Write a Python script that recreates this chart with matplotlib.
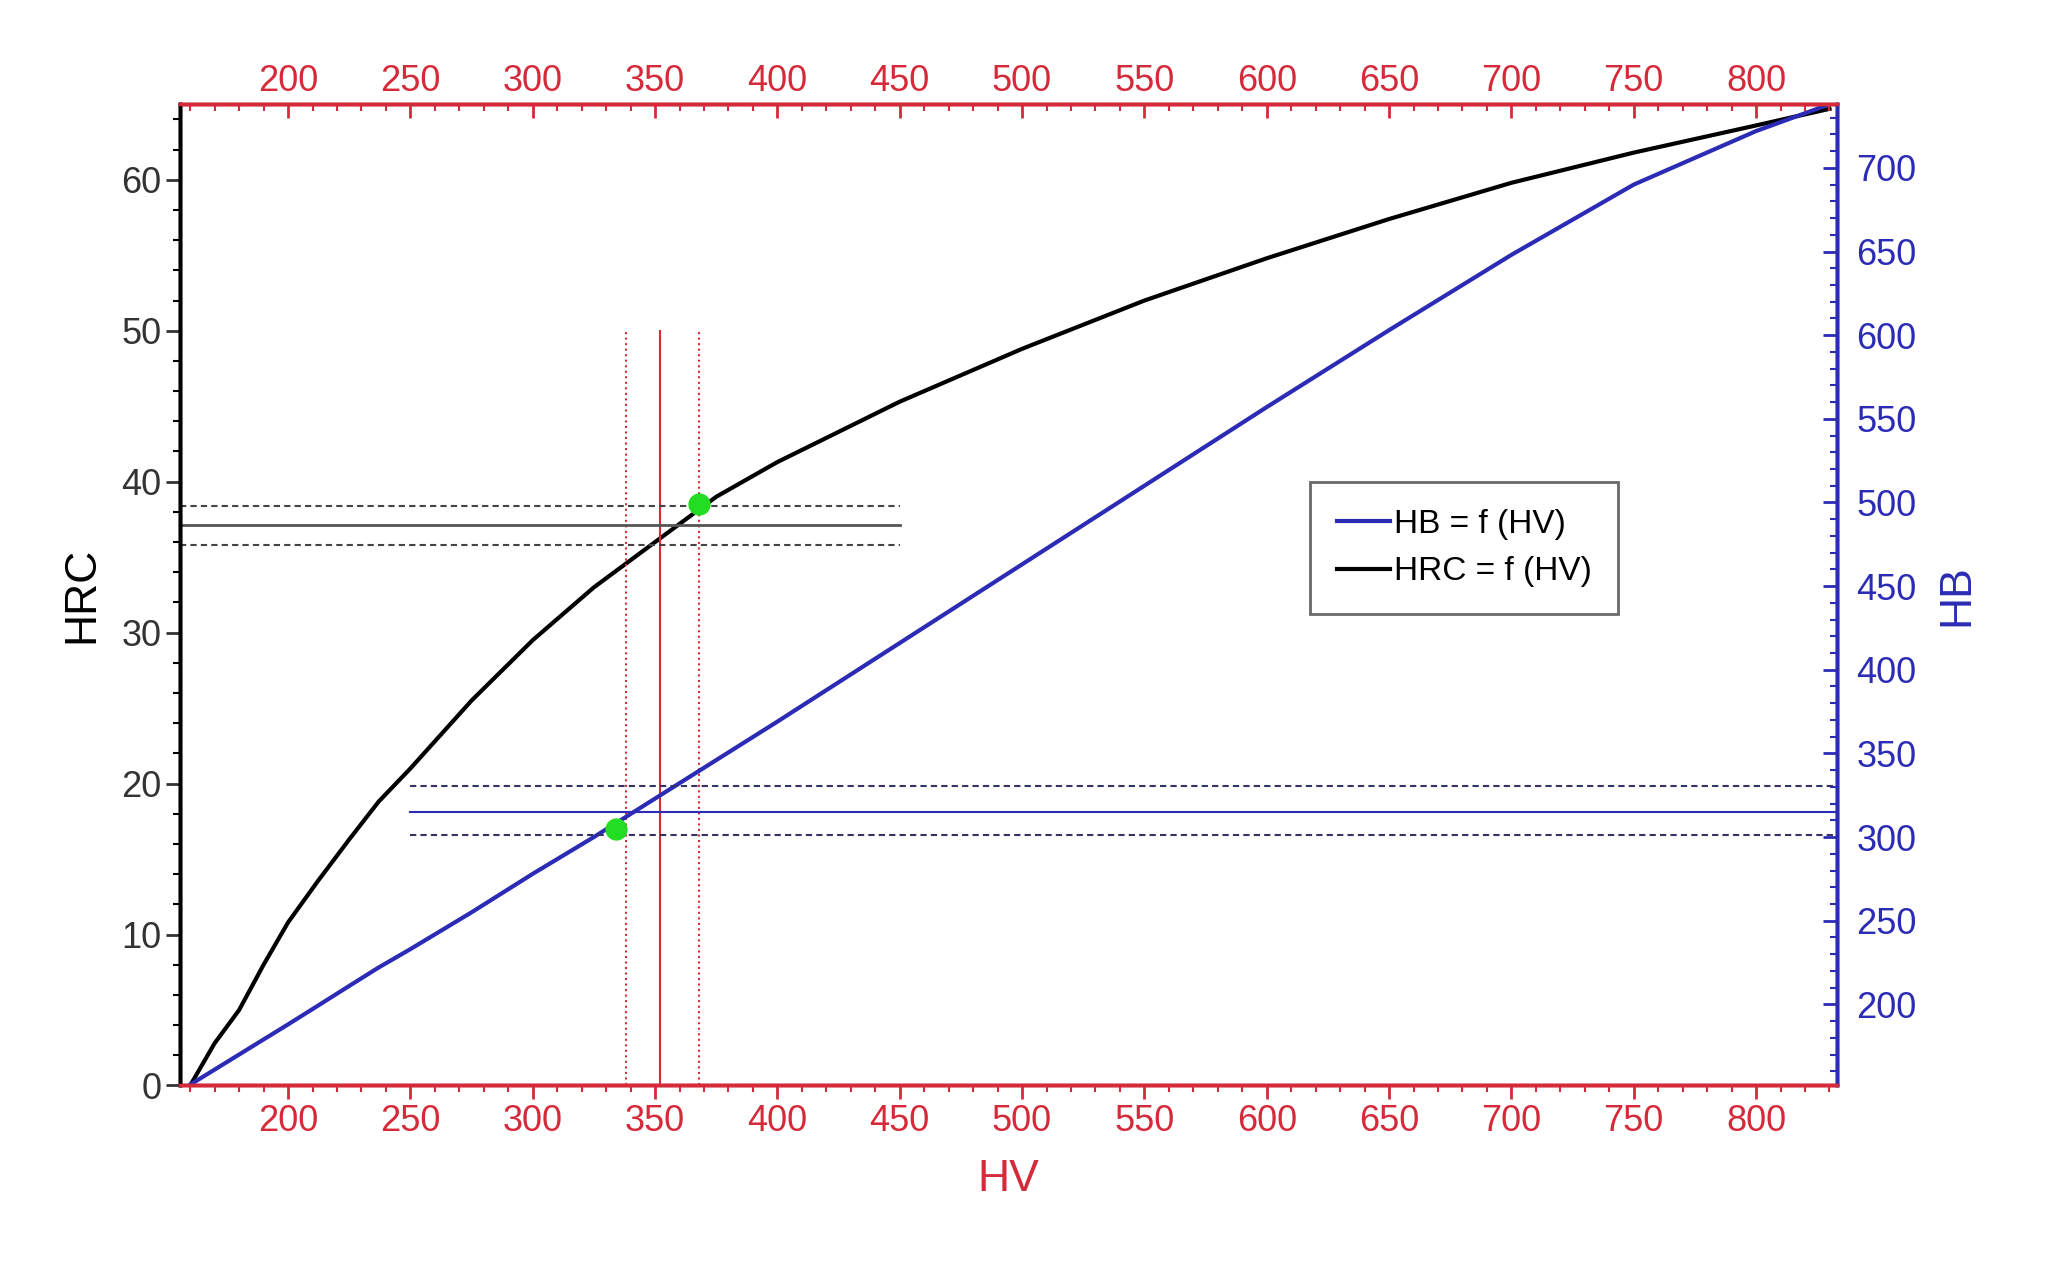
import matplotlib
matplotlib.use("Agg")
import matplotlib.pyplot as plt
from matplotlib.ticker import MultipleLocator

plt.rcParams['font.family'] = ['Liberation Sans', 'DejaVu Sans']

hv = [160, 170, 180, 190, 200, 212, 225, 237, 250, 275, 300, 325, 350, 375, 400, 450, 500, 550, 600, 650, 700, 750, 775, 800, 830]
hrc = [0, 2.8, 5, 8, 10.8, 13.5, 16.3, 18.8, 21, 25.5, 29.5, 33, 36, 39, 41.3, 45.3, 48.8, 52, 54.8, 57.4, 59.8, 61.8, 62.7, 63.6, 64.7]
hb = [152, 161, 170, 179, 188, 199, 211, 222, 233, 255, 278, 300, 323, 346, 369, 416, 463, 510, 557, 603, 648, 690, 706, 722, 738]

red = "#d42a3a"; blue = "#2b2bb5"
fig = plt.figure(figsize=(20.5, 12.66), dpi=100)
ax = fig.add_axes([0.088, 0.1426, 0.808, 0.775])
ax.set_xlim(156, 833); ax.set_ylim(0, 65)
axr = ax.twinx(); axr.set_ylim(151.5, 738)
axt = ax.twiny(); axt.set_xlim(156, 833)

ax.plot(hv, hrc, color="black", lw=3, label="HRC = f (HV)")
axr.plot(hv, hb, color=blue, lw=3, label="HB = f (HV)")

ax.plot([352, 352], [0, 50], color=red, lw=1.5)
for x in (338, 368):
    ax.plot([x, x], [0, 50], color=red, lw=1.5, ls=":")
ax.plot([156, 450], [37.1, 37.1], color="#555555", lw=2)
for y in (38.4, 35.8):
    ax.plot([156, 450], [y, y], color="#444444", lw=1.5, ls="--", dashes=(3, 2))
axr.plot([250, 833], [315, 315], color=blue, lw=1.5)
for y in (330.5, 301.5):
    axr.plot([250, 833], [y, y], color="#333366", lw=1.5, ls="--", dashes=(3, 2))
ax.plot([368], [38.5], "o", color="#22dd22", ms=15)
axr.plot([334], [305], "o", color="#22dd22", ms=15)

for a in (ax, axt):
    a.xaxis.set_minor_locator(MultipleLocator(10))
ax.set_xticks(range(200, 801, 50)); axt.set_xticks(range(200, 801, 50))
ax.yaxis.set_major_locator(MultipleLocator(10)); ax.yaxis.set_minor_locator(MultipleLocator(2))
axr.set_yticks(range(200, 701, 50)); axr.yaxis.set_minor_locator(MultipleLocator(10))

ax.tick_params(axis="x", colors=red, labelsize=26, direction="out", length=10, width=2)
ax.tick_params(axis="x", which="minor", colors=red, direction="out", length=5, width=1.5)
axt.tick_params(axis="x", colors=red, labelsize=26, direction="in", length=10, width=2)
axt.tick_params(axis="x", which="minor", colors=red, direction="in", length=5, width=1.5)
ax.tick_params(axis="y", labelsize=26, direction="out", length=10, width=2, colors="#333333")
ax.tick_params(axis="y", which="minor", direction="out", length=5, width=1.5)
axr.tick_params(axis="y", colors=blue, labelsize=26, direction="in", length=10, width=2, pad=14)
axr.tick_params(axis="y", which="minor", colors=blue, direction="in", length=5, width=1.5)

for a in (ax, axt, axr):
    a.spines["bottom"].set_color(red); a.spines["top"].set_color(red)
    a.spines["left"].set_color("black"); a.spines["right"].set_color(blue)
    for s in a.spines.values():
        s.set_linewidth(2.5)

ax.set_xlabel("HV", color=red, fontsize=32, labelpad=14)
ax.set_ylabel("HRC", fontsize=32, labelpad=14)
axr.set_ylabel("HB", color=blue, fontsize=32, labelpad=14)

h1, l1 = axr.get_legend_handles_labels(); h2, l2 = ax.get_legend_handles_labels()
leg = ax.legend(h1 + h2, l1 + l2, loc="upper left", bbox_to_anchor=(0.672, 0.632),
                fontsize=24, frameon=True, fancybox=False, edgecolor="#444444",
                handlelength=1.6, handletextpad=0.1, borderpad=0.8)
leg.get_frame().set_linewidth(2)
fig.savefig("out.png", dpi=100)
